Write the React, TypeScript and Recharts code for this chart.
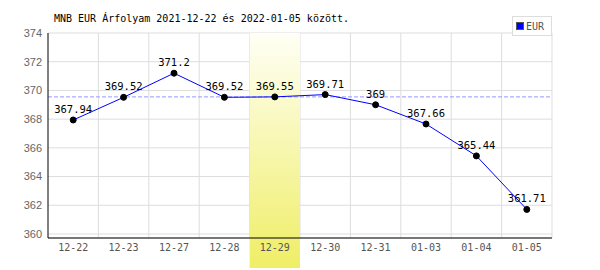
import React from "react";
import {
  LineChart,
  Line,
  XAxis,
  YAxis,
  CartesianGrid,
  ReferenceArea,
  ReferenceLine,
  LabelList,
} from "recharts";

const DATES = ["12-22", "12-23", "12-27", "12-28", "12-29", "12-30", "12-31", "01-03", "01-04", "01-05"];
const EUR = [367.94, 369.52, 371.2, 369.52, 369.55, 369.71, 369, 367.66, 365.44, 361.71];
const Y_TICKS = [360, 362, 364, 366, 368, 370, 372, 374];
const SELECTED = "12-29";
const SELECTED_RATE = 369.55;

const TITLE = "MNB EUR Árfolyam 2021-12-22 és 2022-01-05 között.";
const MONO = "'DejaVu Sans Mono', 'Liberation Mono', monospace";

const chartData = DATES.map((d, i) => ({ date: d, EUR: EUR[i] }));

// yellow band that runs down through the tick labels
function Band(props: any) {
  const { x, y, width, height } = props;
  return <rect x={x} y={y} width={width} height={height + 30} fill="url(#bandFill)" />;
}

export default function App() {
  return (
    <div style={{ position: "fixed", left: 0, top: 0, width: 600, height: 270, background: "#fff" }}>
      <LineChart
        width={600}
        height={270}
        data={chartData}
        margin={{ top: 33, right: 48, bottom: 8, left: 8 }}
      >
        <defs>
          <linearGradient id="bandFill" x1="0" y1="0" x2="0" y2="1">
            <stop offset="0%" stopColor="#fffff6" />
            <stop offset="100%" stopColor="#efee66" />
          </linearGradient>
        </defs>
        <CartesianGrid
          stroke="#dddddd"
          verticalCoordinatesGenerator={({ offset }: any) =>
            DATES.map((_, i) => offset.left + ((i + 1) * offset.width) / DATES.length)
          }
        />
        <ReferenceArea x1={SELECTED} x2={SELECTED} shape={<Band />} ifOverflow="visible" />
        <XAxis
          dataKey="date"
          scale="band"
          height={24}
          axisLine={{ stroke: "#000" }}
          tickLine={false}
          tickSize={4}
          tickMargin={2}
          tick={{ fontSize: 10, fill: "#555", fontFamily: MONO }}
          interval={0}
        />
        <YAxis
          width={40}
          domain={[359.72, 374]}
          ticks={Y_TICKS}
          allowDataOverflow
          axisLine={{ stroke: "#000" }}
          tickLine={false}
          tickSize={4}
          tickMargin={2}
          tick={{ fontSize: 11, fill: "#666", fontFamily: "'Liberation Sans', Arial, sans-serif" }}
        />
        <ReferenceLine y={SELECTED_RATE} stroke="#9999ff" strokeDasharray="4 2" />
        <Line
          dataKey="EUR"
          stroke="#0000ff"
          strokeWidth={1}
          dot={{ r: 3, fill: "#000", stroke: "#000", strokeWidth: 1 }}
          activeDot={false}
          isAnimationActive={false}
        >
          <LabelList
            dataKey="EUR"
            position="top"
            offset={7}
            fill="#000"
            fontSize={10.5}
            fontFamily={MONO}
            formatter={(v: any) => String(v)}
          />
        </Line>
      </LineChart>
      <div
        style={{
          position: "absolute",
          left: 54,
          top: 13,
          fontFamily: MONO,
          fontSize: 10,
          color: "#000",
          whiteSpace: "nowrap",
        }}
      >
        {TITLE}
      </div>
      <div
        style={{
          position: "absolute",
          left: 512,
          top: 16,
          width: 40,
          height: 20,
          boxSizing: "border-box",
          border: "1px solid #dddddd",
          background: "#fff",
          display: "flex",
          alignItems: "center",
          paddingLeft: 3,
          fontFamily: MONO,
          fontSize: 10,
          color: "#555",
        }}
      >
        <span
          style={{
            display: "inline-block",
            width: 6,
            height: 6,
            background: "#0000ff",
            border: "1px solid #555",
            marginRight: 2,
          }}
        />
        EUR
      </div>
    </div>
  );
}
